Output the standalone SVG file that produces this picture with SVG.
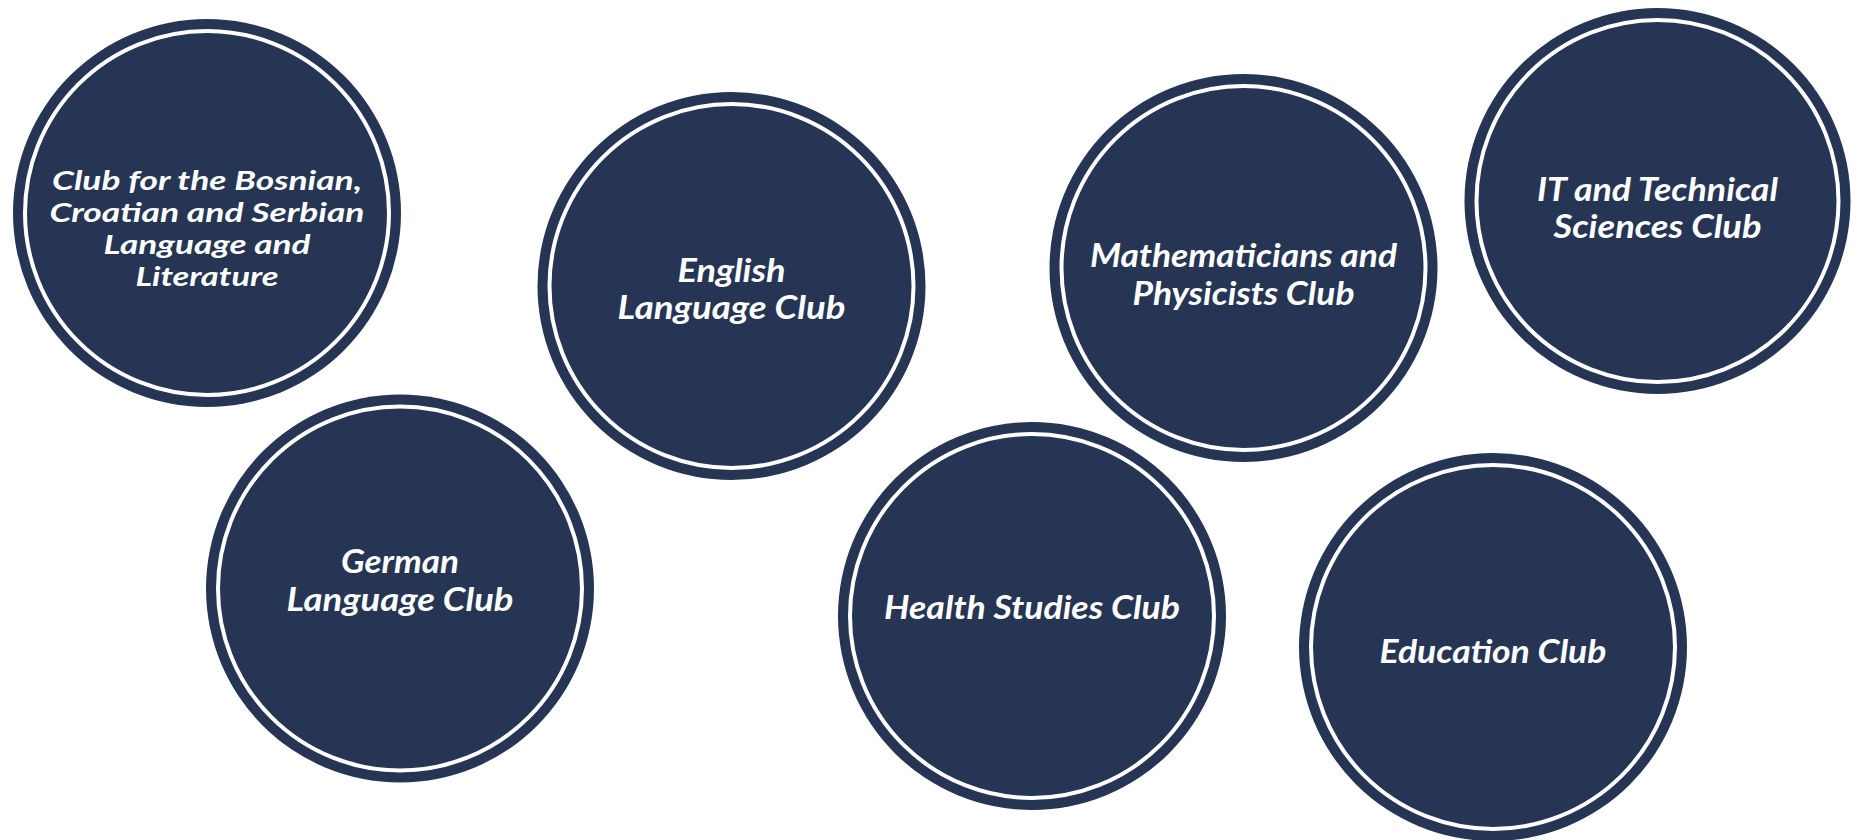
<svg xmlns="http://www.w3.org/2000/svg" width="1863" height="840" viewBox="0 0 1863 840">
<style>
.disc{fill:#263553}
.ring{fill:none;stroke:#ffffff;stroke-width:4}
.lbl{fill:#ffffff;font-family:Lato,"Open Sans","Liberation Sans",sans-serif;font-style:italic;font-weight:700;font-size:32px;text-anchor:middle}
.sm{font-size:27px}
</style>
<rect width="1863" height="840" fill="#ffffff"/>
<g id="connectors"/>
<g id="bosnian">
<circle class="disc" cx="207" cy="213" r="194"/>
<circle class="ring" cx="207" cy="213" r="182"/>
<text class="lbl sm" x="207" y="190" textLength="310" lengthAdjust="spacingAndGlyphs">Club for the Bosnian,</text>
<text class="lbl sm" x="207" y="222" textLength="315" lengthAdjust="spacingAndGlyphs">Croatian and Serbian</text>
<text class="lbl sm" x="207" y="254" textLength="207" lengthAdjust="spacingAndGlyphs">Language and</text>
<text class="lbl sm" x="207" y="286" textLength="143" lengthAdjust="spacingAndGlyphs">Literature</text>
</g>
<g id="english">
<circle class="disc" cx="731.5" cy="286" r="194"/>
<circle class="ring" cx="731.5" cy="286" r="182"/>
<text class="lbl" x="731.5" y="282" textLength="108" lengthAdjust="spacingAndGlyphs">English</text>
<text class="lbl" x="731.5" y="319" textLength="228" lengthAdjust="spacingAndGlyphs">Language Club</text>
</g>
<g id="math">
<circle class="disc" cx="1243.5" cy="268" r="194"/>
<circle class="ring" cx="1243.5" cy="268" r="182"/>
<text class="lbl" x="1243.5" y="267" textLength="307" lengthAdjust="spacingAndGlyphs">Mathematicians and</text>
<text class="lbl" x="1243.5" y="305" textLength="222" lengthAdjust="spacingAndGlyphs">Physicists Club</text>
</g>
<g id="it">
<circle class="disc" cx="1657.5" cy="201" r="193"/>
<circle class="ring" cx="1657.5" cy="201" r="181"/>
<text class="lbl" x="1657.5" y="201" textLength="241" lengthAdjust="spacingAndGlyphs">IT and Technical</text>
<text class="lbl" x="1657.5" y="238" textLength="208" lengthAdjust="spacingAndGlyphs">Sciences Club</text>
</g>
<g id="german">
<circle class="disc" cx="400" cy="588.5" r="194"/>
<circle class="ring" cx="400" cy="588.5" r="182"/>
<text class="lbl" x="400" y="573" textLength="118" lengthAdjust="spacingAndGlyphs">German</text>
<text class="lbl" x="400" y="611" textLength="227" lengthAdjust="spacingAndGlyphs">Language Club</text>
</g>
<g id="health">
<circle class="disc" cx="1032" cy="616" r="194"/>
<circle class="ring" cx="1032" cy="616" r="182"/>
<text class="lbl" x="1032" y="619" textLength="296" lengthAdjust="spacingAndGlyphs">Health Studies Club</text>
</g>
<g id="education">
<circle class="disc" cx="1493" cy="647" r="194"/>
<circle class="ring" cx="1493" cy="647" r="182"/>
<text class="lbl" x="1493" y="663" textLength="227" lengthAdjust="spacingAndGlyphs">Education Club</text>
</g>
</svg>
